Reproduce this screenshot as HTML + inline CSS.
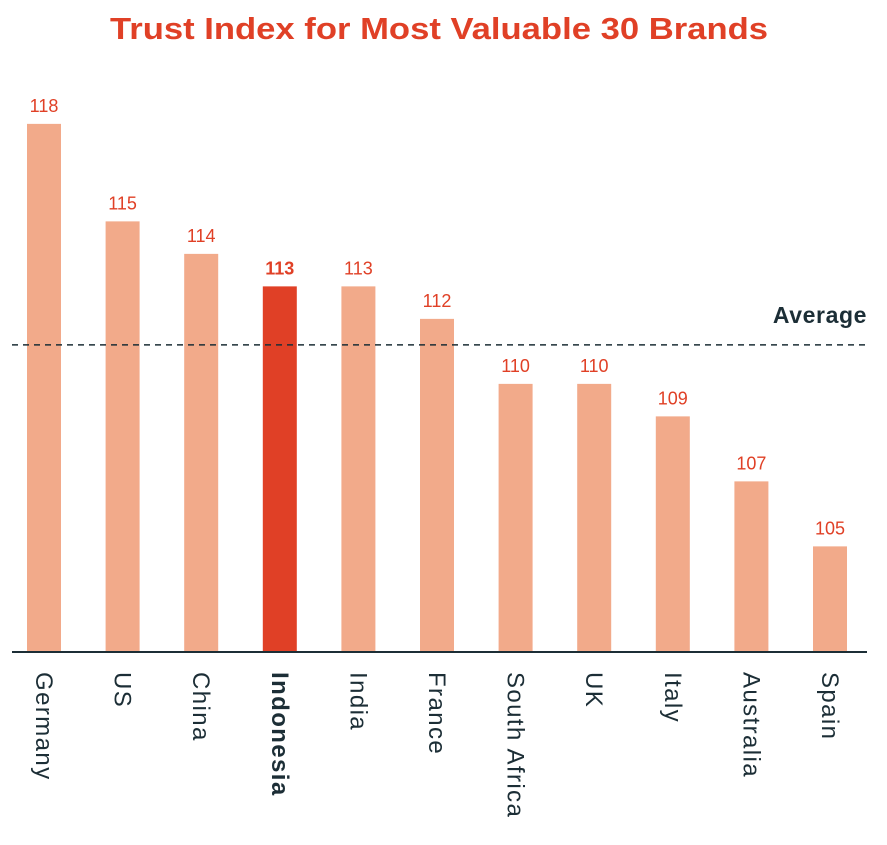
<!DOCTYPE html>
<html><head><meta charset="utf-8"><style>
body{margin:0;background:#fff;}
svg{display:block;font-family:"Liberation Sans",sans-serif;}
</style></head><body>
<svg id="chart" width="887" height="845" viewBox="0 0 887 845">
<text x="110" y="39" textLength="658" lengthAdjust="spacingAndGlyphs" font-size="31" font-weight="bold" fill="#e04026">Trust Index for Most Valuable 30 Brands</text>
<g id="bars"></g>
<line id="avg" x1="12" x2="867" stroke="#1c2e36" stroke-width="1.5" stroke-dasharray="6,5"/>
<text id="avgLabel" x="867" text-anchor="end" font-size="23" font-weight="bold" letter-spacing="0.6" fill="#1c2e36">Average</text>
<line x1="12" x2="867" y1="652" y2="652" stroke="#1c2e36" stroke-width="2"/>
</svg>
<script>
const categories=["Germany","US","China","Indonesia","India","France","South Africa","UK","Italy","Australia","Spain"];
const values=[118,115,114,113,113,112,110,110,109,107,105];
const highlight=["Indonesia"];
const average=[111.2];
const ns="http://www.w3.org/2000/svg";
const y0=101.75, base=652, unit=32.5;
function yScale(v){return base-(v-y0)*unit;}
function xScale(i){return 44+i*78.6;}
const g=document.getElementById('bars');
categories.forEach((c,i)=>{
  const hi=highlight.includes(c);
  const r=document.createElementNS(ns,'rect');
  
  
  r.setAttribute('x',xScale(i)-17);r.setAttribute('width',34);
  r.setAttribute('y',yScale(values[i]));r.setAttribute('height',base-yScale(values[i]));
  r.setAttribute('fill',hi?'#e04026':'#f2aa8a');
  g.appendChild(r);
  const t=document.createElementNS(ns,'text');
  
  
  t.setAttribute('x',xScale(i));t.setAttribute('y',yScale(values[i])-12);
  t.setAttribute('text-anchor','middle');t.setAttribute('font-size','18');
  t.setAttribute('fill','#e04026');
  if(hi)t.setAttribute('font-weight','bold');
  t.textContent=values[i];g.appendChild(t);
  const l=document.createElementNS(ns,'text');
  
  
  l.setAttribute('transform','translate('+(xScale(i)-8)+',672) rotate(90)');
  l.setAttribute('font-size','24');l.setAttribute('fill','#1c2e36');
  l.setAttribute('letter-spacing','1.4');
  if(hi)l.setAttribute('font-weight','bold');
  l.textContent=c;g.appendChild(l);
});
const ay=yScale(average[0]);
const a=document.getElementById('avg');a.setAttribute('y1',ay);a.setAttribute('y2',ay);
document.getElementById('avgLabel').setAttribute('y',ay-22);
</script>
</body></html>
